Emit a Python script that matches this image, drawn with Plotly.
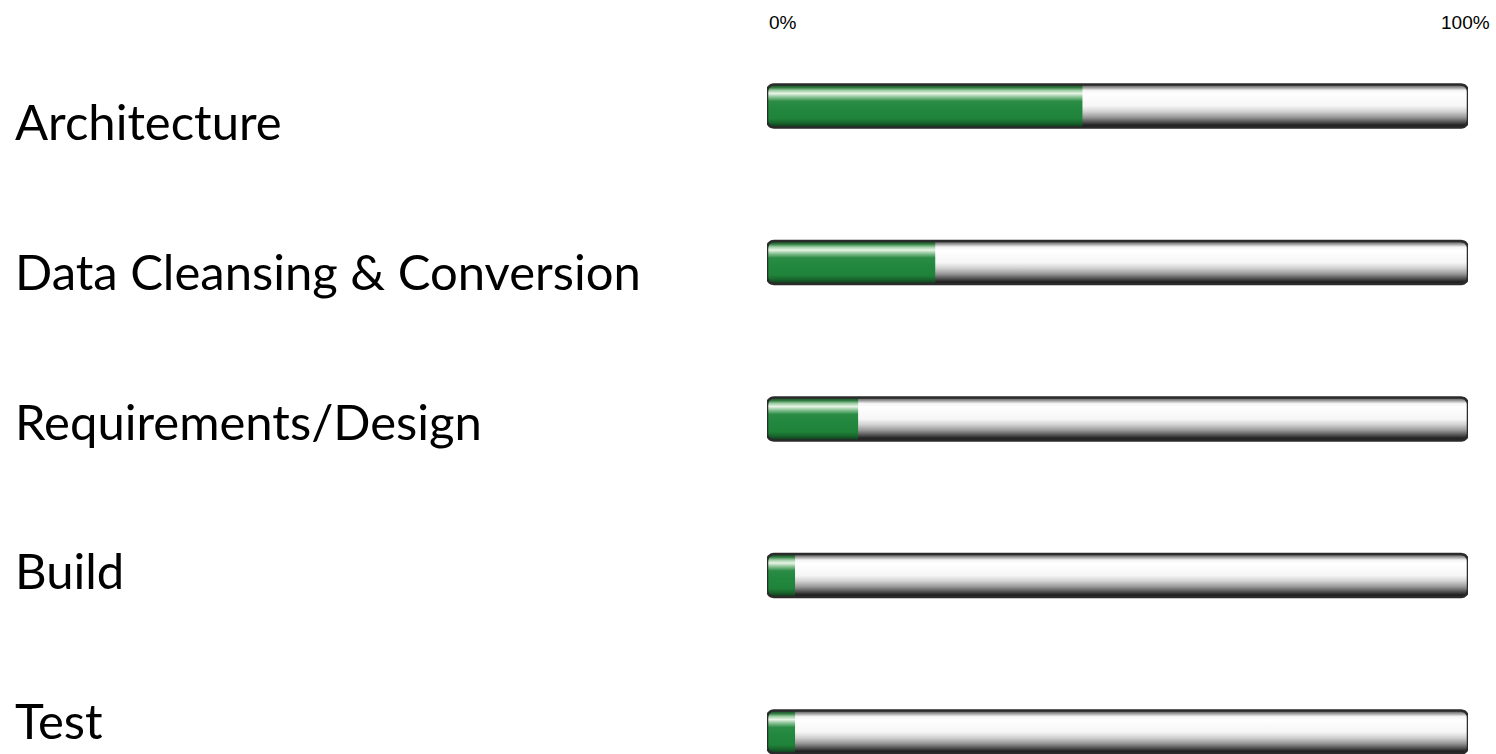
import plotly.graph_objects as go
import numpy as np

# ---- data ----
categories = ["Architecture", "Data Cleansing & Conversion", "Requirements/Design", "Build", "Test"]
progress = [45, 24, 13, 4, 4]          # percent complete
track_max = 100
tick_vals = [0, 100]
tick_text = ["0%", "100%"]

# ---- style ----
W, H = 1496, 754
X0_PX, X1_PX = 767, 1468
BAR_TOP_PX, BAR_STEP_PX = 106, 156.5
LABEL_TOP_PX, LABEL_STEP_PX = 121, 149.8
BAR_HALF_PX = 21.5
RADIUS_PX = 7

x_px_per_unit = (X1_PX - X0_PX) / track_max
y_r1 = -BAR_TOP_PX / BAR_STEP_PX
y_r0 = y_r1 + H / BAR_STEP_PX
l_r1 = -LABEL_TOP_PX / LABEL_STEP_PX
l_r0 = l_r1 + H / LABEL_STEP_PX

half = BAR_HALF_PX / BAR_STEP_PX
rx = RADIUS_PX / x_px_per_unit
ry = RADIUS_PX / BAR_STEP_PX

# listed top -> bottom; flipped below because the gradient runs from the bottom
track_top_down = [
    [0.0, "#4a4a4a"], [0.07, "#9a9a9a"], [0.14, "#f4f4f4"], [0.22, "#ffffff"],
    [0.5, "#f6f6f6"], [0.63, "#d2d2d2"], [0.76, "#9a9a9a"], [0.87, "#555555"],
    [0.94, "#262626"], [1.0, "#1a1a1a"],
]
green_top_down = [
    [0.0, "#18401f"], [0.07, "#2f7a3f"], [0.14, "#9fcfa5"], [0.21, "#e8f4e6"],
    [0.29, "#8cc497"], [0.39, "#2c8c45"], [0.55, "#23883f"], [0.8, "#1f833a"],
    [0.9, "#18632c"], [1.0, "#0f3318"],
]
track_scale = [[1 - p, c] for p, c in reversed(track_top_down)]
green_scale = [[1 - p, c] for p, c in reversed(green_top_down)]


def rounded_rect(x0, x1, yc, round_right=True):
    t = np.linspace(0, np.pi / 2, 8)
    yt, yb = yc - half, yc + half
    xs, ys = [], []
    xs += list(x0 + rx - rx * np.cos(t)); ys += list(yt + ry - ry * np.sin(t))
    if round_right:
        xs += list(x1 - rx + rx * np.sin(t)); ys += list(yt + ry - ry * np.cos(t))
        xs += list(x1 - rx + rx * np.cos(t)); ys += list(yb - ry + ry * np.sin(t))
    else:
        xs += [x1, x1]; ys += [yt, yb]
    xs += list(x0 + rx - rx * np.sin(t)); ys += list(yb - ry + ry * np.cos(t))
    xs.append(xs[0]); ys.append(ys[0])
    return xs, ys


fig = go.Figure()
for i, (cat, val) in enumerate(zip(categories, progress)):
    tx, ty = rounded_rect(0, track_max, i, True)
    fig.add_trace(go.Scatter(
        x=tx, y=ty, mode="lines", fill="toself", line=dict(width=0),
        fillgradient=dict(type="vertical", colorscale=track_scale),
        hoverinfo="skip", showlegend=False))
    gx, gy = rounded_rect(0, val, i, False)
    fig.add_trace(go.Scatter(
        x=gx, y=gy, mode="lines", fill="toself", line=dict(width=0),
        fillgradient=dict(type="vertical", colorscale=green_scale),
        name=cat, hovertemplate=f"{cat}: {val}%<extra></extra>", showlegend=False))
    fig.add_trace(go.Scatter(
        x=tx, y=ty, mode="lines", line=dict(color="#2b2b2b", width=2.5),
        hoverinfo="skip", showlegend=False))

fig.add_trace(go.Scatter(x=[0], y=[0], yaxis="y2", mode="markers",
                         marker=dict(opacity=0), hoverinfo="skip", showlegend=False))

annotations = []
for i, cat in enumerate(categories):
    annotations.append(dict(
        text=cat, x=13 / W, xref="paper", xanchor="left",
        y=i, yref="y2", yanchor="middle", showarrow=False,
        font=dict(family="Lato, Carlito, Calibri, sans-serif", size=49, color="#000000")))
annotations.append(dict(text=tick_text[0], x=tick_vals[0], xref="x", xanchor="left",
                        y=1, yref="paper", yanchor="top", yshift=-10, showarrow=False,
                        font=dict(family="Arial, Liberation Sans, sans-serif", size=19, color="#000")))
annotations.append(dict(text=tick_text[1], x=tick_vals[1], xref="x", xanchor="center", xshift=-3,
                        y=1, yref="paper", yanchor="top", yshift=-10, showarrow=False,
                        font=dict(family="Arial, Liberation Sans, sans-serif", size=19, color="#000")))

fig.update_layout(
    width=W, height=H, margin=dict(l=0, r=0, t=0, b=0),
    paper_bgcolor="white", plot_bgcolor="white",
    xaxis=dict(domain=[X0_PX / W, X1_PX / W], range=[0, track_max],
               visible=False, fixedrange=True),
    yaxis=dict(range=[y_r0, y_r1], visible=False, fixedrange=True),
    yaxis2=dict(range=[l_r0, l_r1], overlaying="y", visible=False, fixedrange=True),
    annotations=annotations,
)
fig.write_html("out.html", config={"displayModeBar": False},
               post_script="document.body.style.margin='0';")
